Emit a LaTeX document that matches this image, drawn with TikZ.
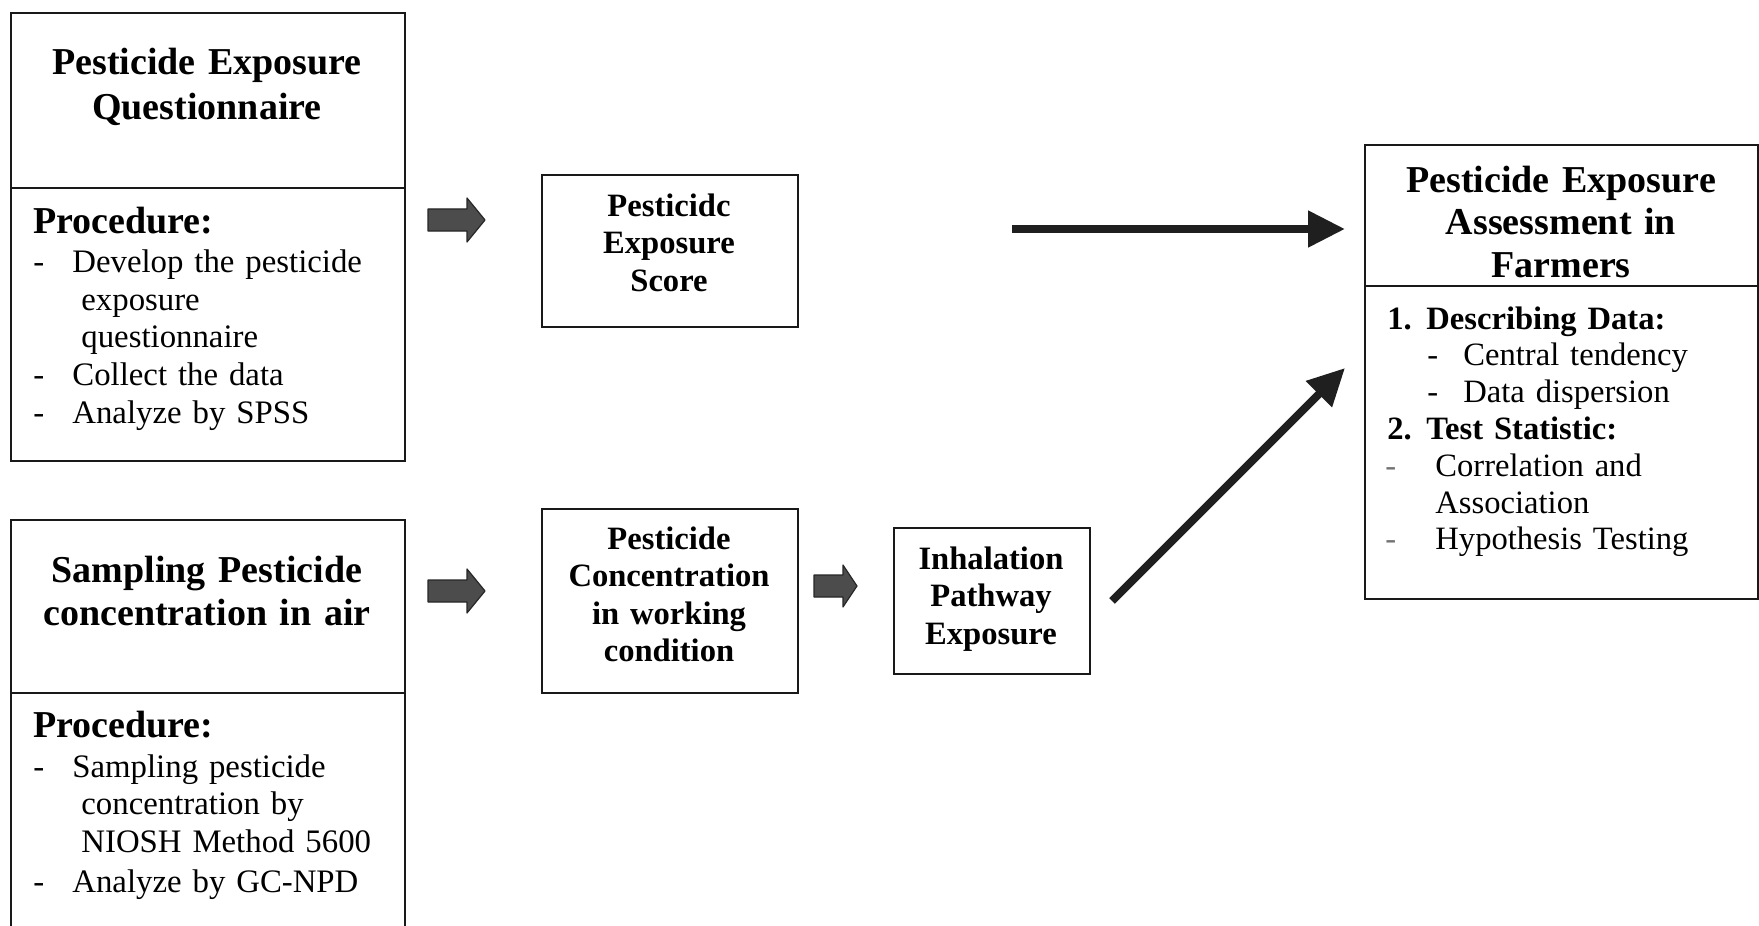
\documentclass[tikz,border=0pt]{standalone}
\usepackage{fontspec}
\setmainfont{Liberation Serif}
\usetikzlibrary{arrows.meta}
\newcommand\dashitem{\makebox[19.5pt][l]{-}}
\tikzset{
  frame/.style={draw=black!90, line width=1pt, inner sep=0pt, anchor=north west},
  headtext/.style={anchor=base, inner sep=0pt, text width=190pt, align=center, font=\fontsize{19}{22.5}\selectfont\bfseries},
  boxtext/.style={anchor=base, inner sep=0pt, text width=120pt, align=center, font=\fontsize{16.3}{18.75}\selectfont\bfseries},
  proctext/.style={anchor=base west, inner sep=0pt, text width=185pt, align=left, font=\fontsize{16.4}{18.75}\selectfont},
  blockarrow/.style={fill=black!70, draw=black!85, line width=0.6pt, line join=round},
  bigarrow/.style={draw=black!88, line width=4pt, -{Triangle[length=18.5pt,width=17.5pt]}}
}
\begin{document}
\begin{tikzpicture}[x=0.5pt,y=-0.5pt]
\useasboundingbox (0,0) rectangle (1759,925);
% Questionnaire box
\node(qhead)[frame,minimum width=197pt,minimum height=87.5pt] at (10,12) {};
\node(qproc)[frame,minimum width=197pt,minimum height=136.5pt] at (10,187) {};
\node(qheadtxt)[headtext] at (207,75) {Pesticide Exposure\\Questionnaire};
\node(qproctxt)[proctext] at (33,234) {{\fontsize{19}{18.75}\selectfont\bfseries Procedure:}\\[0.75pt]
\dashitem Develop the pesticide\\
\hspace*{24pt}exposure\\
\hspace*{24pt}questionnaire\\
\dashitem Collect the data\\
\dashitem Analyze by SPSS};
% Sampling box
\node(shead)[frame,minimum width=197pt,minimum height=86.5pt] at (10,519) {};
\node(sproc)[frame,minimum width=197pt,minimum height=150pt] at (10,692) {};
\node(sheadtxt)[headtext,font=\fontsize{19}{21.5}\selectfont\bfseries] at (207,582) {Sampling Pesticide\\concentration in air};
\node(sproctxt)[proctext] at (33,737) {{\fontsize{19}{18.75}\selectfont\bfseries Procedure:}\\[1.25pt]
\dashitem Sampling pesticide\\
\hspace*{24pt}concentration by\\
\hspace*{24pt}NIOSH Method 5600\\[1.25pt]
\dashitem Analyze by GC-NPD};
% Middle boxes
\node(score)[frame,minimum width=128pt,minimum height=76pt] at (541,174) {};
\node(scoretxt)[boxtext] at (669,216) {Pesticidc\\Exposure\\Score};
\node(conc)[frame,minimum width=128pt,minimum height=92pt] at (541,508) {};
\node(conctxt)[boxtext] at (669,549) {Pesticide\\Concentration\\in working\\condition};
\node(inhal)[frame,minimum width=98pt,minimum height=73pt] at (893,527) {};
\node(inhaltxt)[boxtext] at (991,569) {Inhalation\\Pathway\\Exposure};
% Assessment box
\node(fhead)[frame,minimum width=196.5pt,minimum height=70.5pt] at (1364,144) {};
\node(fproc)[frame,minimum width=196.5pt,minimum height=156.5pt] at (1364,285) {};
\node(fheadtxt)[headtext,font=\fontsize{19}{21.25}\selectfont\bfseries] at (1561,192) {Pesticide Exposure\\Assessment in\\Farmers};
\node(fproctxt)[proctext,font=\fontsize{16.3}{18.4}\selectfont] at (1387,329) {\makebox[19.5pt][l]{\bfseries 1.}{\bfseries Describing Data:}\\
\hspace*{20pt}\makebox[18pt][l]{-}Central tendency\\
\hspace*{20pt}\makebox[18pt][l]{-}Data dispersion\\
\makebox[19.5pt][l]{\bfseries 2.}{\bfseries Test Statistic:}\\
\hspace*{-1pt}\makebox[25pt][l]{\color{black!55}-}Correlation and\\
\hspace*{24pt}Association\\
\hspace*{-1pt}\makebox[25pt][l]{\color{black!55}-}Hypothesis Testing};
% Block arrows
\filldraw[blockarrow] (428,220) -- ++(0,-11) -- ++(39,0) -- ++(0,-11) -- ++(18,22) -- ++(-18,22) -- ++(0,-11) -- ++(-39,0) -- cycle;
\filldraw[blockarrow] (428,591) -- ++(0,-11) -- ++(39,0) -- ++(0,-11) -- ++(18,22) -- ++(-18,22) -- ++(0,-11) -- ++(-39,0) -- cycle;
\filldraw[blockarrow] (814,586) -- ++(0,-11) -- ++(29,0) -- ++(0,-10) -- ++(14,21) -- ++(-14,21) -- ++(0,-10) -- ++(-29,0) -- cycle;
% Arrows to assessment
\coordinate (lstart) at (1012,229);
\coordinate (dtip) at (1345,368);
\draw[bigarrow,shorten >=9.5pt] (lstart) -- (lstart -| fhead.west);
\draw[bigarrow] ([xshift=10.5pt]inhal.east) -- (dtip);
\end{tikzpicture}
\end{document}
